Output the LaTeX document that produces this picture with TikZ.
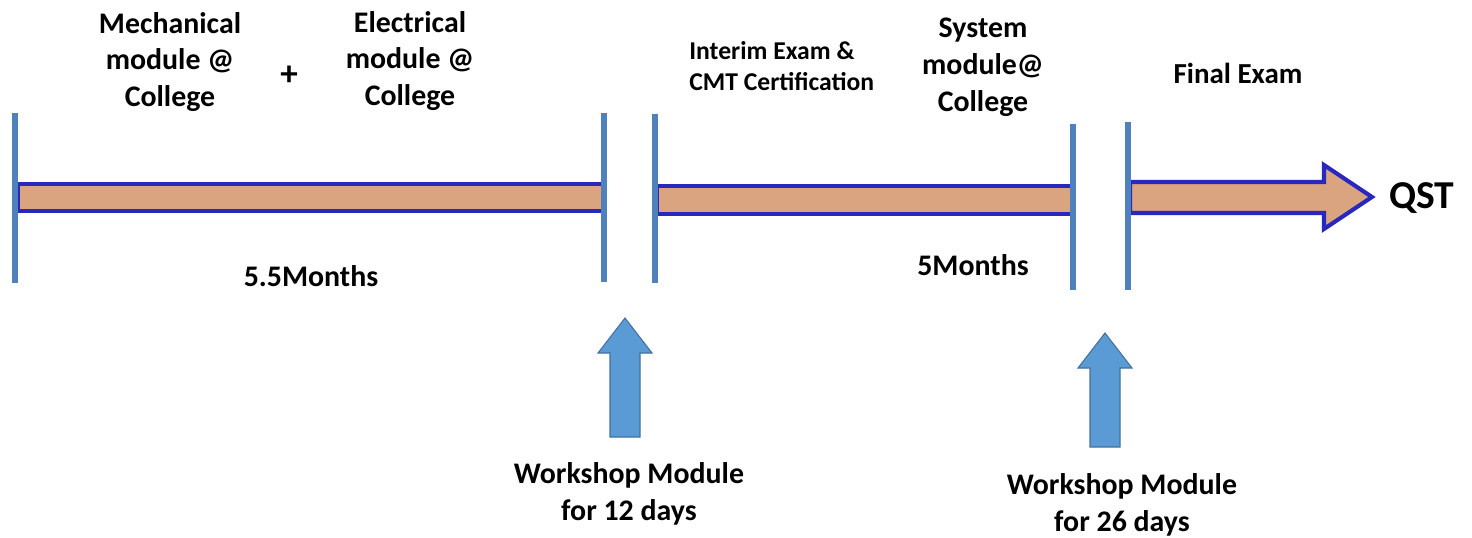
\documentclass[tikz,border=0pt]{standalone}
\usepackage{fontspec}
\setmainfont{Carlito}
\usepackage{tikz}
\usetikzlibrary{positioning}
\definecolor{stemblue}{RGB}{79,129,189}
\definecolor{bareedge}{RGB}{40,40,190}
\definecolor{barfill}{RGB}{218,164,128}
\definecolor{wsfill}{RGB}{91,155,213}
\definecolor{wsedge}{RGB}{65,113,156}
\pgfkeys{tikz/phasebar/.style={draw=bareedge,fill=barfill,line width=2.3pt,line join=miter}}
\pgfkeys{tikz/phasestop/.style={draw=stemblue,line width=3.2pt}}
\pgfkeys{tikz/lbl/.style={font=\fontsize{17}{21}\selectfont\bfseries,align=center,inner sep=0pt}}
\pgfkeys{tikz/smalllbl/.style={font=\fontsize{14.6}{18}\selectfont\bfseries,align=left,inner sep=0pt}}
\newcommand*\workshoparrow[4]{
    \fill[wsfill,draw=wsedge,line width=0.6pt] (#1-15,#3)--(#1+15,#3)--(#1+15,#2+35)--(#1+27,#2+35)
        --(#1,#2)--(#1-27,#2+35)--(#1-15,#2+35)--cycle;
    \coordinate (#4) at (#1,#3);
}

\begin{document}
\begin{tikzpicture}[x=0.02cm,y=-0.02cm]
    \useasboundingbox (0,0) rectangle (1472,538);
    % bars
    \draw[phasebar] (18,184) rectangle (603,211);
    \draw[phasebar] (657,186) rectangle (1072,214);
    \draw[phasebar] (1130,182)--(1324,182)--(1324,165)--(1372,197)--(1324,229)--(1324,213)--(1130,213)--cycle;
    % stops
    \draw[phasestop] (15,113) -- (15,283);
    \draw[phasestop] (604,113) -- (604,282);
    \draw[phasestop] (655,114) -- (655,283);
    \draw[phasestop] (1073,124) -- (1073,290);
    \draw[phasestop] (1128,122) -- (1128,290);
    % labels on top
    \node[lbl] (mech) at (170,62) {Mechanical\\module @\\College};
    \node[lbl,font=\fontsize{20}{24}\selectfont\bfseries] (plus) at (289,76) {+};
    \node[lbl] (elec) at (410,61) {Electrical\\module @\\College};
    \node[smalllbl,anchor=west] (interim) at (689,66) {Interim Exam \&\\CMT Certification};
    \node[lbl] (sys) at (983,67) {System\\module@\\College};
    \node[lbl,font=\fontsize{16.5}{20}\selectfont\bfseries] (final) at (1238,73) {Final Exam};
    \node[lbl,font=\fontsize{22.5}{26}\selectfont\bfseries,anchor=west] (qst) at (1389,198) {QST};
    \node[lbl] (first) at (311,276) {5.5Months};
    \node[lbl] (second) at (973,265) {5Months};
    % workshops
    \workshoparrow{625}{318}{437}{wsa}
    \workshoparrow{1105}{333}{447}{wsb}
    \node[lbl] (wsatext) at (629,494) {Workshop Module\\for 12 days};
    \node[lbl] (wsbtext) at (1122,505) {Workshop Module\\for 26 days};
\end{tikzpicture}
\end{document}
